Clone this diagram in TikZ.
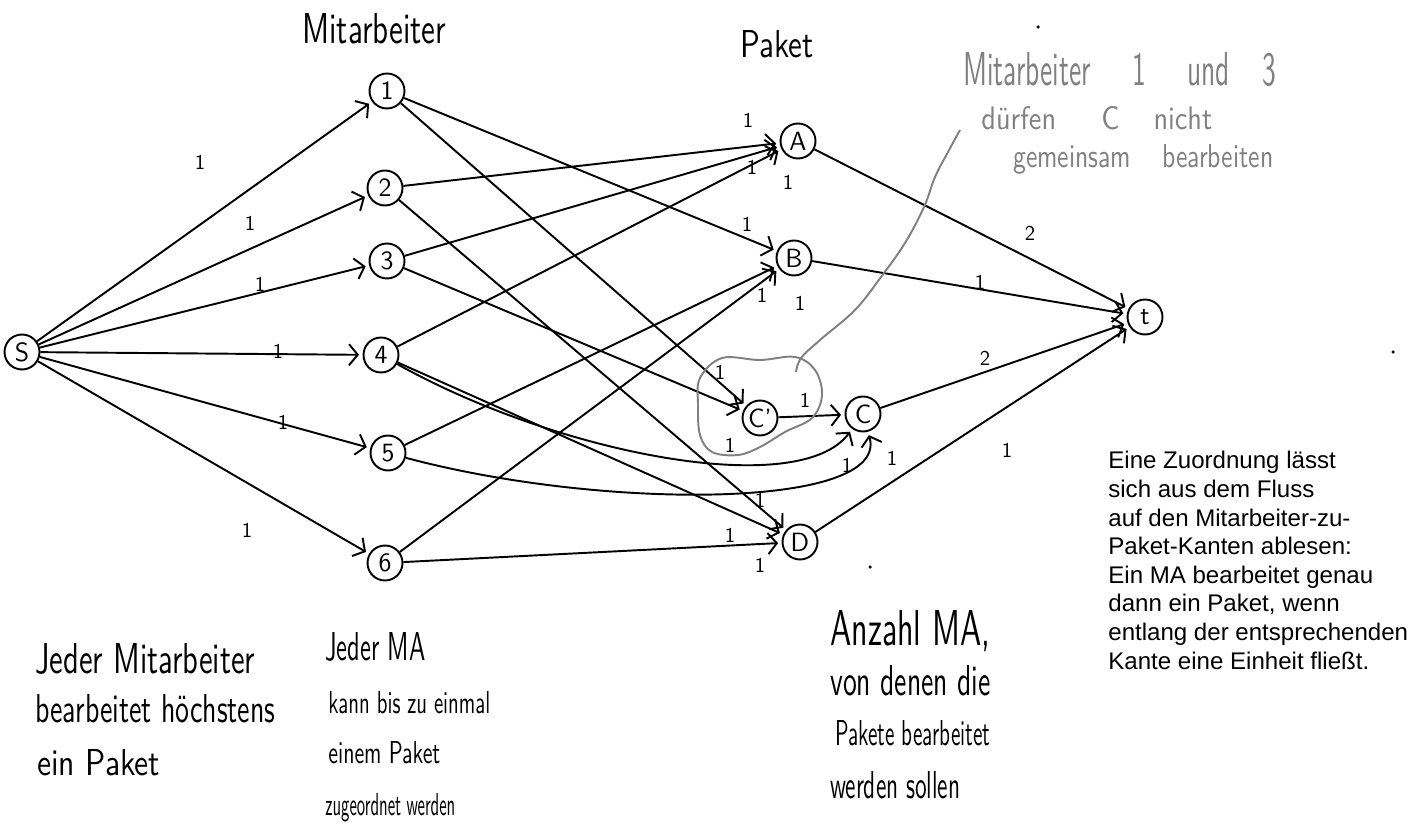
\documentclass[tikz,border=0pt]{standalone}
\usepackage{graphicx}
\usepackage{fontspec}
\newfontfamily\printfont{Liberation Sans}
\usetikzlibrary{arrows.meta}
\newcommand{\hwtext}[3]{\resizebox{#1cm}{#2cm}{\sffamily #3}}
\begin{document}
\begin{tikzpicture}[x=0.02cm,y=-0.02cm,
  vtx/.style={circle,draw,line width=1.1pt,minimum size=0.7cm,inner sep=0pt,font=\sffamily\fontsize{15}{15}\selectfont},
  flow/.style={line width=1.1pt,-{Straight Barb[length=5pt,width=12pt,line width=1.1pt]},shorten >=2pt},
  capl/.style={font=\sffamily\fontsize{12}{12}\selectfont,inner sep=0pt},
  hand/.style={anchor=base west,inner sep=0pt,font=\fontsize{10}{10}\selectfont},
  ghand/.style={hand,text=gray},
  pointer/.style={gray,line width=1.1pt},
  speck/.style={circle,fill,inner sep=0pt,minimum size=2pt}
]
\useasboundingbox (0,0) rectangle (1419,837);

% vertices
\node[vtx] (s)   at (22,352)  {S};
\node[vtx] (m1)  at (387,91)  {1};
\node[vtx] (m2)  at (385,188) {2};
\node[vtx] (m3)  at (387,261) {3};
\node[vtx] (m4)  at (381,355) {4};
\node[vtx] (m5)  at (388,453) {5};
\node[vtx] (m6)  at (385,563) {6};
\node[vtx] (pA)  at (798,141) {A};
\node[vtx] (pB)  at (794,258) {B};
\node[vtx] (pCp) at (760,418) {C'};
\node[vtx] (pC)  at (863,414) {C};
\node[vtx] (pD)  at (800,542) {D};
\node[vtx] (t)   at (1145,317) {t};

% source edges
\draw[flow] (s) -- (m1);
\draw[flow] (s) -- (m2);
\draw[flow] (s) -- (m3);
\draw[flow] (s) -- (m4);
\draw[flow] (s) -- (m5);
\draw[flow] (s) -- (m6);

% employee -> package
\draw[flow] (m1) -- (pB);
\draw[flow] (m1) -- (pCp);
\draw[flow] (m2) -- (pA);
\draw[flow] (m2) -- (pD);
\draw[flow] (m3) -- (pA);
\draw[flow] (m3) -- (pCp);
\draw[flow] (m4) -- (pA);
\draw[flow] (m4) -- (pD);
\draw[flow] (m4) .. controls (560,455) and (800,500) .. (pC);
\draw[flow] (m5) -- (pB);
\draw[flow] (m5) .. controls (600,510) and (890,510) .. (pC);
\draw[flow] (m6) -- (pB);
\draw[flow] (m6) -- (pD);
\draw[flow] (pCp) -- (pC);

% package -> sink
\draw[flow] (pA) -- (t);
\draw[flow] (pB) -- (t);
\draw[flow] (pC) -- (t);
\draw[flow] (pD) -- (t);

% capacities
\node[capl] (c1) at (200,162) {1};
\node[capl] (c2) at (250,223) {1};
\node[capl] (c3) at (260,284) {1};
\node[capl] (c4) at (278,351) {1};
\node[capl] (c5) at (283,422) {1};
\node[capl] (c6) at (247,530) {1};
\node[capl] (a1) at (748,120) {1};
\node[capl] (a2) at (752,167) {1};
\node[capl] (a3) at (788,182) {1};
\node[capl] (b1) at (747,224) {1};
\node[capl] (b2) at (762,295) {1};
\node[capl] (b3) at (800,303) {1};
\node[capl] (q1) at (720,372) {1};
\node[capl] (q2) at (730,445) {1};
\node[capl] (q3) at (805,400) {1};
\node[capl] (r1) at (847,465) {1};
\node[capl] (r2) at (892,458) {1};
\node[capl] (d1) at (760,500) {1};
\node[capl] (d2) at (730,535) {1};
\node[capl] (d3) at (760,565) {1};
\node[capl] (ta) at (1030,233) {2};
\node[capl] (tb) at (980,282) {1};
\node[capl] (tc) at (985,358) {2};
\node[capl] (td) at (1007,450) {1};

% column headings
\node[hand] (hm) at (302,44) {\hwtext{2.88}{0.6}{Mitarbeiter}};
\node[hand] (hp) at (740,58) {\hwtext{1.46}{0.54}{Paket}};

% gray constraint
\draw[pointer] plot[smooth cycle,tension=0.6] coordinates {(700,378) (722,358) (760,360) (795,357) (815,370) (822,395) (812,418) (785,432) (760,447) (738,455) (712,452) (700,435) (698,405)};
\coordinate (cloudtop) at (796,372);
\coordinate (notetip) at (960,130);
\draw[pointer] plot[smooth,tension=0.6] coordinates {(notetip) (948,152) (935,177) (924,207) (905,243) (881,277) (855,310) (820,340) (801,358) (cloudtop)};
\node[ghand] (g1) at (963,86) {\hwtext{6.26}{0.66}{Mitarbeiter\hspace{15pt}1\hspace{15pt}und\hspace{12pt}3}};
\node[ghand] (g2) at (981,130) {\hwtext{4.62}{0.46}{dürfen\hspace{16pt}C\hspace{12pt}nicht}};
\node[ghand] (g3) at (1013,168) {\hwtext{5.2}{0.46}{gemeinsam\hspace{12pt}bearbeiten}};

% handwritten notes
\node[hand] (n11) at (35,673) {\hwtext{4.4}{0.6}{Jeder Mitarbeiter}};
\node[hand] (n12) at (35,722) {\hwtext{4.8}{0.56}{bearbeitet höchstens}};
\node[hand] (n13) at (37,775) {\hwtext{2.46}{0.52}{ein Paket}};

\node[hand] (n21) at (325,660) {\hwtext{2.0}{0.56}{Jeder MA}};
\node[hand] (n22) at (328,713) {\hwtext{3.24}{0.44}{kann bis zu einmal}};
\node[hand] (n23) at (328,763) {\hwtext{2.24}{0.44}{einem Paket}};
\node[hand] (n24) at (325,815) {\hwtext{2.6}{0.44}{zugeordnet werden}};

\node[hand] (n31) at (830,645) {\hwtext{3.2}{0.7}{Anzahl MA,}};
\node[hand] (n32) at (830,695) {\hwtext{3.2}{0.6}{von denen die}};
\node[hand] (n33) at (835,745) {\hwtext{3.1}{0.5}{Pakete bearbeitet}};
\node[hand] (n34) at (830,798) {\hwtext{2.6}{0.54}{werden sollen}};

% printed explanation
\node[anchor=north west,inner sep=0pt,align=left,font=\printfont\fontsize{13.7}{16.3}\selectfont] (expl) at (1108,451)
  {Eine Zuordnung lässt\\sich aus dem Fluss\\auf den Mitarbeiter-zu-\\Paket-Kanten ablesen:\\Ein MA bearbeitet genau\\dann ein Paket, wenn\\entlang der entsprechenden\\Kante eine Einheit fließt.};

% stray specks
\node[speck] (sp1) at (870,567) {};
\node[speck] (sp2) at (1393,352) {};
\node[speck] (sp3) at (1038,27) {};
\end{tikzpicture}
\end{document}
